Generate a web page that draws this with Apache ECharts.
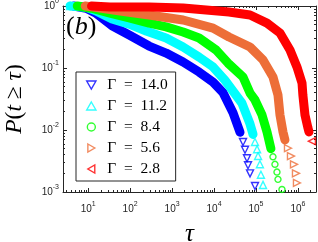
<!DOCTYPE html>
<html><head><meta charset="utf-8">
<script src="https://cdn.jsdelivr.net/npm/echarts@6/dist/echarts.min.js"></script>
<style>html,body{margin:0;padding:0;background:#fff}#c{width:318px;height:242px}</style>
</head><body><div id="c"></div>
<script>
// Legend labels (one per Γ value)
const gammaLabels = ['Γ = 14.0', 'Γ = 11.2', 'Γ = 8.4', 'Γ = 5.6', 'Γ = 2.8'];
const seriesColors = ['#0000FF', '#00FFFF', '#00FF00', '#ED6E38', '#FF0000'];

// [τ, P(t ≥ τ)] — dense part of each curve (drawn as a thick band)
const band14 = [[4.5,1],[9,0.92],[15,0.77],[37,0.48],[95,0.34],[283,0.226],[720,0.174],[1830,0.125],[4400,0.086],[9460,0.059],[16400,0.040],[28300,0.019],[41600,0.0092]];
const band11 = [[3.7,1],[9,0.95],[15,0.84],[37,0.62],[95,0.51],[250,0.39],[720,0.305],[1830,0.218],[4400,0.150],[9460,0.104],[18000,0.064],[46400,0.027],[72000,0.0125],[85000,0.0085]];
const band8 = [[5.5,1],[12,0.92],[33,0.77],[95,0.64],[283,0.53],[720,0.46],[1830,0.38],[4400,0.305],[11200,0.195],[21500,0.12],[49000,0.0716],[72000,0.0395],[94600,0.0305],[139000,0.0175],[183000,0.0093],[227000,0.0050]];
const band5 = [[8.5,1],[13.2,0.96],[58,0.83],[283,0.716],[1830,0.594],[9460,0.44],[22700,0.316],[72000,0.218],[147000,0.135],[254000,0.0716],[334000,0.0367],[373000,0.0175],[440000,0.0093],[490000,0.0069]];
const band2 = [[12,1],[33,0.96],[283,0.96],[1830,0.93],[22700,0.80],[72000,0.716],[183000,0.53],[373000,0.367],[646000,0.195],[946000,0.104],[1250000,0.057],[1310000,0.0367],[1470000,0.0175],[1730000,0.0108],[1830000,0.0093]];

// [τ, P(t ≥ τ)] — individually visible hollow markers (head and tail of each curve)
const marks14 = [[49000,0.0064],[54700,0.0048],[61000,0.0035],[64500,0.0027],[72000,0.0020],[94600,0.00125]];
const marks11 = [[3.7,1],[94600,0.0064],[106000,0.0049],[112000,0.0038],[124000,0.0028],[131000,0.0019],[147000,0.0013]];
const marks8 = [[5.5,1],[7.5,1],[254000,0.0037],[283000,0.0028],[316000,0.0021],[334000,0.0016],[416000,0.0011]];
const marks5 = [[578000,0.0051],[681000,0.0038],[804000,0.0028],[896000,0.0020],[946000,0.0014]];
const marks2 = [[2150000,0.0066]];

// Axis tick exponents (labels 10^n)
const xTickExp = [1, 2, 3, 4, 5, 6];
const yTickExp = [-3, -2, -1, 0];

const bands = [band14, band11, band8, band5, band2];
const marks = [marks14, marks11, marks8, marks5, marks2];
const symbols = ['triangle', 'triangle', 'circle', 'triangle', 'triangle'];
const rotations = [180, 0, 0, -90, 90];
const symSizes = [7, 7, 6, 7, 7];
const legendIcons = [
  'path://M0,0L10,0L5,8.66Z',
  'path://M5,0L10,8.66L0,8.66Z',
  'circle',
  'path://M0,0L8.66,5L0,10Z',
  'path://M8.66,0L8.66,10L0,5Z'
];

const X_MIN = 0.4, X_MAX = 6.43, Y_MIN = -3, Y_MAX = 0;
const toLog = pts => pts.map(p => [Math.log10(p[0]), Math.log10(p[1])]);
function minorTicks(lo, hi) {
  const out = [];
  for (let e = Math.floor(lo); e < Math.ceil(hi); e++)
    for (let k = 2; k <= 9; k++) { const v = e + Math.log10(k); if (v > lo && v < hi) out.push(v); }
  return out;
}
const AX = '#262626';
const labelRich = {
  b: { fontSize: 10, fontFamily: 'Liberation Sans', color: AX, lineHeight: 16 },
  s: { fontSize: 7, fontFamily: 'Liberation Sans', color: AX, verticalAlign: 'top', lineHeight: 8 }
};
const fmt = v => '{b|10}{s|' + Math.round(v) + '}';
function mkAxis(pos, min, max, ticks, len, showLine, labels, extra) {
  return Object.assign({
    type: 'value', position: pos, min: min, max: max,
    axisLine: { show: showLine, onZero: false, lineStyle: { color: AX, width: 1 } },
    axisTick: { show: true, inside: true, length: len, customValues: ticks, lineStyle: { color: AX, width: 1 } },
    axisLabel: labels ? { show: true, customValues: labels, formatter: fmt, rich: labelRich, margin: labels.margin } : { show: false },
    splitLine: { show: false }, minorTick: { show: false }
  }, extra || {});
}
const xMinor = minorTicks(X_MIN, X_MAX), yMinor = minorTicks(Y_MIN, Y_MAX);
const xLab = xTickExp.slice(); xLab.margin = 9;
const yLab = yTickExp.slice(); yLab.margin = 4;
const serifRich = fs => ({
  i: { fontFamily: 'Liberation Serif', fontStyle: 'italic', fontSize: fs, color: '#000' },
  r: { fontFamily: 'Liberation Serif', fontSize: fs, color: '#000' }
});

const series = [];
bands.forEach((b, i) => {
  series.push({
    name: 'band ' + gammaLabels[i], type: 'line', data: toLog(b), symbol: 'none', showSymbol: false,
    clip: false, silent: true, smooth: false,
    lineStyle: { width: 9, color: seriesColors[i], cap: 'round', join: 'round' }
  });
  series.push({
    name: gammaLabels[i], type: 'scatter', data: toLog(marks[i]), clip: false, silent: true,
    symbol: symbols[i], symbolRotate: rotations[i], symbolSize: symSizes[i], symbolKeepAspect: true,
    itemStyle: { color: 'rgba(255,255,255,0)', borderColor: seriesColors[i], borderWidth: 1.4 }
  });
});

const chart = echarts.init(document.getElementById('c'));
chart.setOption({
  animation: false,
  backgroundColor: '#fff',
  grid: { left: 63, right: 2, top: 6, bottom: 50, containLabel: false, outerBoundsMode: 'none' },
  xAxis: [
    mkAxis('bottom', X_MIN, X_MAX, xTickExp, 4, true, xLab, {
      name: '{i|τ}', nameLocation: 'middle', nameGap: 30, nameTextStyle: { rich: serifRich(25) } }),
    mkAxis('bottom', X_MIN, X_MAX, xMinor, 2, false, null),
    mkAxis('top', X_MIN, X_MAX, xTickExp, 4, true, null),
    mkAxis('top', X_MIN, X_MAX, xMinor, 2, false, null)
  ],
  yAxis: [
    mkAxis('left', Y_MIN, Y_MAX, yTickExp, 4, true, yLab, {
      name: '{i|P}{r|(}{i|t}{r| ≥ }{i|τ}{r|)}', nameLocation: 'middle', nameRotate: 90, nameGap: 36,
      nameTextStyle: { rich: serifRich(23.5) } }),
    mkAxis('left', Y_MIN, Y_MAX, yMinor, 2, false, null),
    mkAxis('right', Y_MIN, Y_MAX, yTickExp, 4, true, null),
    mkAxis('right', Y_MIN, Y_MAX, yMinor, 2, false, null)
  ],
  legend: {
    orient: 'vertical', left: 76, top: 72,
    data: gammaLabels.map((n, i) => ({
      name: n, icon: legendIcons[i],
      itemStyle: { color: 'rgba(255,255,255,0)', borderColor: seriesColors[i], borderWidth: 1.4 }
    })),
    formatter: n => n.replace(' = ', '\u2002=\u2002'),
    itemWidth: 22, itemHeight: 8, itemGap: 5, padding: [5, 8, 4, 10], symbolKeepAspect: true,
    borderColor: AX, borderWidth: 1, borderRadius: 0, backgroundColor: '#fff',
    textStyle: { fontFamily: 'Liberation Serif', fontSize: 15.5, color: '#000' },
    selectedMode: false
  },
  graphic: [{
    type: 'text', left: 66, top: 14, silent: true,
    style: { text: '{r|(}{i|b}{r|)}', rich: {
      i: { fontFamily: 'Liberation Serif', fontStyle: 'italic', fontSize: 26, fill: '#000' },
      r: { fontFamily: 'Liberation Serif', fontSize: 26, fill: '#000' } } }
  }],
  series: series
});
</script></body></html>
